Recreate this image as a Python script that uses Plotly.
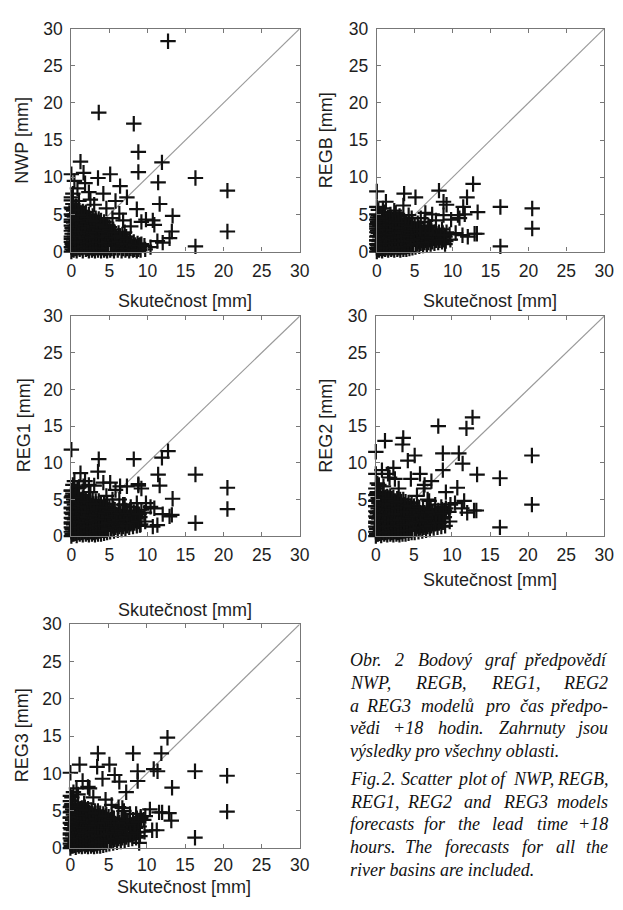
import plotly.graph_objects as go

# ---------------- data (mm) ----------------
# isolated / readable points: observed value and the five model forecasts
skutecnost_out = [20.5, 20.5, 16.3, 16.3, 12.7, 11.9, 8.2, 3.6, 8.8, 13.3, 13.2, 11.4, 10.7, 5.1, 0.0, 1.2,
                  3.5, 8.8, 6.4, 4.2, 11.6, 12.9, 7.3, 0.0, 10.9, 9.2, 9.0, 11.3, 2.3, 0.8, 6.3, 9.8,
                  12.0, 10.4, 1.8, 5.8, 0.4, 1.6, 2.5, 3.0, 4.6, 5.4, 7.8, 7.0, 0.2, 1.0, 8.6, 6.8]
nwp_out = [8.2, 2.7, 9.9, 0.7, 28.3, 12.0, 17.2, 18.7, 13.4, 4.8, 2.7, 9.3, 4.2, 10.4, 10.4, 12.1,
           9.9, 10.7, 8.8, 7.8, 6.4, 1.8, 7.3, 6.9, 3.6, 4.0, 0.9, 1.4, 8.0, 8.5, 5.1, 4.3,
           1.2, 0.6, 9.2, 6.8, 9.5, 10.6, 7.0, 6.3, 5.8, 4.5, 3.4, 2.6, 7.8, 6.8, 5.7, 4.2]
regb_out = [5.8, 3.1, 6.0, 0.7, 9.1, 7.3, 8.2, 7.8, 6.7, 5.3, 2.4, 6.0, 4.9, 7.3, 8.1, 6.7,
            6.2, 4.9, 5.2, 4.9, 5.0, 2.4, 5.0, 6.0, 4.5, 6.3, 1.0, 2.2, 5.5, 5.8, 4.0, 4.3,
            2.0, 2.5, 5.0, 4.5, 3.5, 4.0, 5.2, 4.8, 4.5, 3.8, 4.2, 3.3, 5.6, 5.3, 3.0, 3.5]
reg1_out = [6.6, 3.7, 8.4, 1.8, 11.6, 10.7, 10.5, 10.5, 7.1, 5.1, 2.9, 8.4, 1.3, 7.3, 11.8, 8.6,
            8.8, 6.9, 6.8, 7.3, 6.9, 2.7, 6.8, 6.2, 3.8, 6.5, 1.5, 1.5, 7.0, 6.5, 5.0, 4.5,
            3.0, 4.0, 7.5, 6.3, 7.5, 6.8, 6.0, 6.9, 5.5, 5.0, 4.0, 4.3, 7.0, 6.7, 4.5, 4.3]
reg2_out = [11.0, 4.3, 7.9, 1.2, 16.2, 14.7, 15.0, 13.4, 11.3, 8.4, 3.5, 9.9, 6.6, 11.0, 11.5, 13.0,
            12.5, 9.0, 7.0, 10.3, 4.8, 3.5, 7.5, 8.5, 11.3, 6.0, 3.5, 3.8, 9.3, 9.0, 6.5, 4.3,
            3.2, 4.5, 8.0, 8.5, 7.0, 8.5, 7.8, 6.5, 7.8, 5.5, 4.3, 4.8, 7.2, 6.8, 4.0, 5.0]
reg3_out = [9.7, 4.9, 10.3, 1.4, 14.8, 12.7, 12.7, 12.7, 10.3, 8.1, 3.7, 10.3, 2.4, 11.2, 10.1, 11.2,
            10.9, 9.0, 8.9, 9.3, 4.8, 4.7, 7.5, 7.0, 10.6, 4.0, 0.7, 2.4, 8.2, 8.0, 5.5, 4.3,
            4.8, 5.2, 6.0, 9.8, 7.5, 9.0, 8.0, 6.8, 6.5, 5.8, 4.6, 5.0, 6.8, 7.2, 4.6, 5.4]

# dense cluster of small amounts, part A (read column by column)
skutecnost_cl = [
    0, 0, 0, 0, 0, 0, 0, 0, 0, 0,
    0.3, 0.2, 0.3, 0.4, 0.2, 0.3, 0.4, 0.3, 0.2,
    0.7, 0.6, 0.7, 0.8, 0.6, 0.7, 0.8, 0.7, 0.6,
    1.1, 1.0, 1.1, 1.2, 1.0, 1.1, 1.2, 1.1, 1.0,
    1.5, 1.4, 1.5, 1.6, 1.4, 1.5, 1.6, 1.5,
    1.9, 1.8, 1.9, 2.0, 1.8, 1.9, 2.0, 1.9,
    2.3, 2.2, 2.3, 2.4, 2.2, 2.3, 2.4, 2.3,
    2.7, 2.6, 2.7, 2.8, 2.6, 2.7, 2.8,
    3.1, 3.0, 3.1, 3.2, 3.0, 3.1, 3.2,
    3.5, 3.4, 3.5, 3.6, 3.4, 3.5, 3.6,
    3.9, 3.8, 3.9, 4.0, 3.8, 3.9,
    4.3, 4.2, 4.3, 4.4, 4.2, 4.3,
    4.7, 4.6, 4.7, 4.8, 4.6, 4.7,
    5.1, 5.0, 5.1, 5.2, 5.0,
    5.6, 5.5, 5.6, 5.7, 5.5,
    6.1, 6.0, 6.1, 6.2,
    6.6, 6.5, 6.6, 6.7,
    7.1, 7.0, 7.1, 7.2,
    7.6, 7.5, 7.7,
    8.1, 8.0, 8.2,
    8.6, 8.5, 8.7,
    9.1, 9.0, 9.2,
    9.7, 9.6,
]
nwp_cl = [
    0, 0.6, 1.3, 2.0, 2.8, 3.5, 4.3, 5.0, 5.9, 7.3,
    0.2, 0.9, 1.6, 2.4, 3.1, 3.9, 4.7, 5.5, 6.4,
    0.1, 0.8, 1.5, 2.2, 2.9, 3.6, 4.4, 5.2, 6.1,
    0.3, 1.0, 1.7, 2.4, 3.1, 3.8, 4.5, 5.2, 6.0,
    0.1, 0.8, 1.5, 2.2, 2.9, 3.7, 4.5, 5.4,
    0.3, 1.0, 1.7, 2.4, 3.1, 3.8, 4.6, 5.3,
    0.1, 0.8, 1.4, 2.1, 2.8, 3.5, 4.2, 5.0,
    0.2, 0.9, 1.6, 2.3, 3.1, 3.9, 4.8,
    0.1, 0.8, 1.5, 2.2, 2.9, 3.7, 4.5,
    0.2, 0.9, 1.6, 2.3, 3.0, 3.7, 4.4,
    0.1, 0.9, 1.7, 2.5, 3.3, 4.2,
    0.2, 0.9, 1.6, 2.4, 3.2, 4.0,
    0.1, 0.8, 1.5, 2.2, 2.9, 3.6,
    0.2, 0.9, 1.7, 2.5, 3.3,
    0.1, 0.8, 1.5, 2.2, 3.0,
    0.2, 0.9, 1.7, 2.5,
    0.1, 0.8, 1.5, 2.3,
    0.2, 0.8, 1.4, 2.0,
    0.1, 0.8, 1.5,
    0.2, 0.7, 1.3,
    0.1, 0.6, 1.1,
    0.2, 0.6, 1.0,
    0.3, 0.8,
]
regb_cl = [
    0, 0.5, 1.0, 1.5, 2.0, 2.6, 3.1, 3.7, 4.3, 5.0,
    0.2, 0.8, 1.4, 2.0, 2.5, 3.1, 3.7, 4.3, 4.9,
    0.1, 0.7, 1.3, 1.8, 2.4, 3.0, 3.6, 4.2, 4.8,
    0.3, 0.8, 1.4, 1.9, 2.5, 3.0, 3.6, 4.1, 4.7,
    0.2, 0.8, 1.4, 2.0, 2.6, 3.2, 3.8, 4.5,
    0.3, 0.9, 1.5, 2.1, 2.7, 3.3, 3.9, 4.5,
    0.2, 0.8, 1.4, 2.0, 2.6, 3.2, 3.8, 4.4,
    0.3, 0.9, 1.6, 2.3, 3.0, 3.7, 4.4,
    0.2, 0.9, 1.5, 2.2, 2.9, 3.6, 4.3,
    0.3, 0.9, 1.6, 2.2, 2.9, 3.5, 4.2,
    0.3, 1.0, 1.8, 2.5, 3.2, 4.0,
    0.4, 1.1, 1.8, 2.5, 3.2, 3.9,
    0.5, 1.1, 1.7, 2.4, 3.0, 3.7,
    0.6, 1.3, 2.0, 2.7, 3.4,
    0.7, 1.3, 1.9, 2.5, 3.2,
    0.8, 1.5, 2.2, 2.9,
    0.9, 1.5, 2.1, 2.8,
    1.0, 1.6, 2.2, 2.8,
    1.1, 1.8, 2.6,
    1.2, 1.9, 2.6,
    1.3, 1.9, 2.5,
    1.4, 2.0, 2.6,
    1.6, 2.3,
]
reg1_cl = [
    0, 0.6, 1.2, 1.9, 2.5, 3.2, 3.9, 4.6, 5.3, 6.2,
    0.3, 0.9, 1.6, 2.3, 3.0, 3.6, 4.3, 5.0, 5.8,
    0.1, 0.8, 1.4, 2.1, 2.8, 3.5, 4.2, 4.9, 5.6,
    0.3, 0.9, 1.6, 2.2, 2.9, 3.5, 4.2, 4.9, 5.6,
    0.2, 0.9, 1.6, 2.3, 3.0, 3.7, 4.4, 5.2,
    0.3, 1.0, 1.7, 2.4, 3.0, 3.7, 4.4, 5.1,
    0.2, 0.9, 1.5, 2.2, 2.9, 3.6, 4.3, 5.0,
    0.3, 1.0, 1.7, 2.5, 3.3, 4.1, 4.9,
    0.2, 0.9, 1.6, 2.4, 3.2, 4.0, 4.8,
    0.3, 1.0, 1.7, 2.5, 3.3, 4.0, 4.8,
    0.3, 1.1, 1.9, 2.7, 3.6, 4.5,
    0.4, 1.2, 2.0, 2.8, 3.6, 4.4,
    0.5, 1.2, 1.9, 2.7, 3.5, 4.3,
    0.6, 1.4, 2.2, 3.0, 3.9,
    0.7, 1.4, 2.2, 3.0, 3.8,
    0.8, 1.7, 2.6, 3.5,
    0.9, 1.7, 2.5, 3.4,
    1.0, 1.8, 2.6, 3.5,
    1.2, 2.2, 3.3,
    1.3, 2.3, 3.3,
    1.4, 2.4, 3.4,
    1.6, 2.6, 3.6,
    2.0, 3.2,
]
reg2_cl = [
    0, 0.6, 1.3, 2.0, 2.7, 3.4, 4.1, 4.8, 5.6, 6.5,
    0.3, 1.0, 1.7, 2.4, 3.1, 3.8, 4.5, 5.2, 6.0,
    0.1, 0.8, 1.5, 2.2, 2.9, 3.6, 4.3, 5.0, 5.8,
    0.3, 1.0, 1.7, 2.4, 3.1, 3.8, 4.5, 5.2, 5.9,
    0.2, 0.9, 1.6, 2.3, 3.0, 3.8, 4.6, 5.4,
    0.3, 1.0, 1.7, 2.4, 3.1, 3.9, 4.7, 5.5,
    0.2, 0.9, 1.6, 2.3, 3.0, 3.7, 4.5, 5.3,
    0.3, 1.0, 1.8, 2.6, 3.4, 4.2, 5.1,
    0.2, 0.9, 1.7, 2.5, 3.3, 4.1, 5.0,
    0.3, 1.0, 1.8, 2.6, 3.4, 4.2, 5.0,
    0.3, 1.1, 1.9, 2.8, 3.7, 4.7,
    0.4, 1.2, 2.0, 2.8, 3.7, 4.6,
    0.5, 1.2, 2.0, 2.8, 3.6, 4.5,
    0.5, 1.3, 2.2, 3.1, 4.1,
    0.6, 1.4, 2.2, 3.1, 4.0,
    0.7, 1.6, 2.6, 3.6,
    0.8, 1.7, 2.6, 3.6,
    0.9, 1.8, 2.7, 3.7,
    1.1, 2.2, 3.4,
    1.2, 2.3, 3.5,
    1.3, 2.4, 3.6,
    1.4, 2.6, 3.8,
    2.0, 3.3,
]
reg3_cl = [
    0, 0.6, 1.3, 2.0, 2.7, 3.4, 4.1, 4.8, 5.5, 6.3,
    0.3, 1.0, 1.7, 2.4, 3.1, 3.8, 4.5, 5.2, 5.9,
    0.1, 0.8, 1.5, 2.2, 2.9, 3.6, 4.3, 5.0, 5.7,
    0.3, 1.0, 1.7, 2.4, 3.1, 3.8, 4.5, 5.2, 5.8,
    0.2, 0.9, 1.6, 2.3, 3.0, 3.8, 4.6, 5.4,
    0.3, 1.0, 1.7, 2.4, 3.1, 3.9, 4.7, 5.5,
    0.2, 0.9, 1.6, 2.3, 3.0, 3.7, 4.5, 5.3,
    0.3, 1.0, 1.8, 2.6, 3.4, 4.2, 5.1,
    0.2, 0.9, 1.7, 2.5, 3.3, 4.1, 5.0,
    0.3, 1.0, 1.8, 2.6, 3.4, 4.2, 5.0,
    0.3, 1.1, 1.9, 2.8, 3.7, 4.7,
    0.4, 1.2, 2.0, 2.8, 3.7, 4.6,
    0.5, 1.2, 2.0, 2.8, 3.6, 4.5,
    0.6, 1.4, 2.3, 3.2, 4.2,
    0.7, 1.5, 2.3, 3.2, 4.1,
    0.8, 1.7, 2.7, 3.8,
    0.9, 1.8, 2.8, 3.8,
    1.0, 1.9, 2.9, 3.9,
    1.2, 2.4, 3.7,
    1.3, 2.5, 3.8,
    1.4, 2.7, 4.0,
    1.6, 2.9, 4.2,
    2.2, 3.8,
]

# dense cluster, part B (columns in between)
skutecnost_cl2 = [
    0.1, 0.1, 0.0, 0.1, 0.1, 0.0, 0.1, 0.1,
    0.5, 0.5, 0.4, 0.5, 0.5, 0.6, 0.5, 0.5,
    0.9, 0.9, 0.9, 1.0, 0.9, 0.8, 0.9, 0.9,
    1.3, 1.3, 1.2, 1.3, 1.4, 1.3, 1.3,
    1.7, 1.7, 1.6, 1.7, 1.8, 1.7, 1.7,
    2.1, 2.1, 2.0, 2.1, 2.2, 2.1, 2.1,
    2.5, 2.5, 2.4, 2.5, 2.6, 2.5,
    2.9, 2.9, 2.8, 2.9, 3.0, 2.9,
    3.3, 3.3, 3.2, 3.3, 3.4, 3.3,
    3.7, 3.7, 3.6, 3.7, 3.8,
    4.1, 4.1, 4.0, 4.1, 4.2,
    4.5, 4.5, 4.4, 4.5, 4.6,
    4.9, 4.9, 4.8, 5.0,
    5.3, 5.3, 5.4, 5.3,
    5.8, 5.8, 5.9, 5.7,
    6.3, 6.3, 6.4,
    6.8, 6.8, 6.9,
    7.3, 7.3, 7.4,
    7.8, 7.9,
    8.3, 8.4,
    8.8, 8.9,
]
nwp_cl2 = [
    0.3, 1.0, 1.7, 2.4, 3.2, 4.0, 4.8, 5.7,
    0.4, 1.2, 2.0, 2.7, 3.5, 4.2, 5.0, 5.8,
    0.5, 1.3, 2.0, 2.7, 3.4, 4.1, 4.9, 5.6,
    0.5, 1.3, 2.0, 2.7, 3.4, 4.2, 5.0,
    0.6, 1.3, 2.0, 2.7, 3.5, 4.2, 4.9,
    0.4, 1.1, 1.8, 2.5, 3.2, 3.9, 4.6,
    0.5, 1.2, 2.0, 2.7, 3.5, 4.3,
    0.4, 1.1, 1.9, 2.6, 3.3, 4.1,
    0.5, 1.2, 1.9, 2.6, 3.4, 4.1,
    0.5, 1.3, 2.1, 2.9, 3.7,
    0.5, 1.2, 2.0, 2.8, 3.6,
    0.4, 1.1, 1.9, 2.6, 3.3,
    0.5, 1.3, 2.1, 2.9,
    0.4, 1.2, 1.9, 2.7,
    0.5, 1.2, 1.9, 2.6,
    0.5, 1.3, 2.1,
    0.4, 1.1, 1.8,
    0.4, 1.0, 1.6,
    0.4, 1.1,
    0.3, 0.9,
    0.3, 0.8,
]
regb_cl2 = [
    0.3, 0.9, 1.5, 2.1, 2.8, 3.4, 4.0, 4.6,
    0.4, 1.0, 1.6, 2.2, 2.8, 3.4, 4.0, 4.6,
    0.4, 1.0, 1.6, 2.2, 2.8, 3.3, 3.9, 4.5,
    0.5, 1.1, 1.7, 2.3, 2.9, 3.5, 4.2,
    0.5, 1.1, 1.8, 2.4, 3.0, 3.6, 4.2,
    0.5, 1.1, 1.7, 2.3, 2.9, 3.5, 4.1,
    0.6, 1.2, 1.9, 2.6, 3.3, 4.0,
    0.5, 1.2, 1.8, 2.5, 3.2, 3.9,
    0.6, 1.2, 1.9, 2.5, 3.2, 3.9,
    0.6, 1.4, 2.1, 2.8, 3.6,
    0.7, 1.4, 2.1, 2.8, 3.5,
    0.8, 1.4, 2.0, 2.7, 3.4,
    0.9, 1.6, 2.3, 3.0,
    1.0, 1.6, 2.3, 3.0,
    1.1, 1.7, 2.4, 3.0,
    1.2, 1.9, 2.5,
    1.2, 1.8, 2.5,
    1.3, 1.9, 2.5,
    1.5, 2.2,
    1.5, 2.2,
    1.6, 2.2,
]
reg1_cl2 = [
    0.3, 1.0, 1.7, 2.4, 3.1, 3.8, 4.6, 5.5,
    0.4, 1.1, 1.8, 2.5, 3.2, 3.9, 4.7, 5.4,
    0.5, 1.2, 1.9, 2.6, 3.3, 4.0, 4.7, 5.3,
    0.5, 1.2, 2.0, 2.7, 3.4, 4.2, 5.0,
    0.6, 1.3, 2.0, 2.7, 3.4, 4.1, 4.8,
    0.5, 1.2, 1.9, 2.6, 3.3, 4.0, 4.7,
    0.6, 1.4, 2.1, 2.9, 3.7, 4.5,
    0.5, 1.3, 2.0, 2.8, 3.6, 4.4,
    0.6, 1.4, 2.1, 2.9, 3.7, 4.4,
    0.7, 1.5, 2.3, 3.1, 4.0,
    0.8, 1.6, 2.4, 3.2, 4.0,
    0.8, 1.6, 2.3, 3.1, 3.9,
    1.0, 1.8, 2.6, 3.5,
    1.0, 1.8, 2.6, 3.4,
    1.2, 2.0, 2.8, 3.6,
    1.3, 2.2, 3.1,
    1.3, 2.1, 3.0,
    1.4, 2.3, 3.1,
    1.7, 2.8,
    1.8, 2.8,
    2.0, 3.0,
]
reg2_cl2 = [
    0.3, 1.0, 1.8, 2.5, 3.3, 4.1, 4.9, 5.8,
    0.4, 1.2, 1.9, 2.7, 3.4, 4.2, 5.0, 5.8,
    0.5, 1.3, 2.0, 2.8, 3.5, 4.2, 5.0, 5.7,
    0.5, 1.3, 2.1, 2.9, 3.7, 4.5, 5.3,
    0.6, 1.4, 2.1, 2.8, 3.6, 4.4, 5.2,
    0.5, 1.3, 2.0, 2.8, 3.6, 4.4, 5.1,
    0.6, 1.4, 2.2, 3.0, 3.9, 4.8,
    0.5, 1.3, 2.1, 3.0, 3.8, 4.6,
    0.6, 1.4, 2.2, 3.0, 3.9, 4.7,
    0.7, 1.6, 2.5, 3.4, 4.3,
    0.8, 1.6, 2.5, 3.3, 4.2,
    0.8, 1.6, 2.4, 3.3, 4.1,
    0.9, 1.8, 2.7, 3.6,
    1.0, 1.8, 2.7, 3.6,
    1.1, 2.0, 2.9, 3.9,
    1.2, 2.2, 3.2,
    1.3, 2.2, 3.2,
    1.4, 2.4, 3.3,
    1.7, 2.9,
    1.8, 3.0,
    1.9, 3.1,
]
reg3_cl2 = [
    0.3, 1.0, 1.8, 2.5, 3.3, 4.1, 4.9, 5.7,
    0.4, 1.2, 1.9, 2.7, 3.4, 4.2, 5.0, 5.7,
    0.5, 1.3, 2.0, 2.8, 3.5, 4.2, 4.9, 5.6,
    0.5, 1.3, 2.1, 2.9, 3.7, 4.5, 5.3,
    0.6, 1.4, 2.1, 2.8, 3.6, 4.4, 5.2,
    0.5, 1.3, 2.0, 2.8, 3.6, 4.4, 5.1,
    0.6, 1.4, 2.2, 3.0, 3.9, 4.8,
    0.5, 1.3, 2.1, 3.0, 3.8, 4.6,
    0.6, 1.4, 2.2, 3.0, 3.9, 4.7,
    0.7, 1.6, 2.5, 3.4, 4.3,
    0.8, 1.6, 2.5, 3.3, 4.2,
    0.8, 1.7, 2.5, 3.4, 4.3,
    1.0, 1.9, 2.8, 3.7,
    1.0, 1.9, 2.8, 3.8,
    1.2, 2.1, 3.0, 4.0,
    1.3, 2.4, 3.4,
    1.4, 2.4, 3.4,
    1.5, 2.6, 3.7,
    1.8, 3.1,
    1.9, 3.2,
    2.1, 3.5,
]

model_names = ["NWP", "REGB", "REG1", "REG2", "REG3"]
x_title = "Skutečnost [mm]"
tick_vals = [0, 5, 10, 15, 20, 25, 30]
diag = [0, 30]

caption_lines = [
    "Obr. 2  Bodový graf předpovědí",
    "NWP, REGB, REG1, REG2",
    "a REG3 modelů pro čas předpo-",
    "vědi +18 hodin. Zahrnuty jsou",
    "výsledky pro všechny oblasti.",
    "Fig. 2. Scatter plot of NWP, REGB,",
    "REG1, REG2 and REG3 models",
    "forecasts for the lead time +18",
    "hours. The forecasts for all the",
    "river basins are included.",
]
justified = [True, True, True, True, False, True, True, True, True, False]

skutecnost = skutecnost_out + skutecnost_cl + skutecnost_cl2
forecasts = [nwp_out + nwp_cl + nwp_cl2, regb_out + regb_cl + regb_cl2,
             reg1_out + reg1_cl + reg1_cl2, reg2_out + reg2_cl + reg2_cl2,
             reg3_out + reg3_cl + reg3_cl2]

# ---------------- layout (pixels) ----------------
W, H = 623, 910
frames = [(68, 302, 19, 247), (381, 614, 19, 247), (68, 302, 313, 538),
          (380, 614, 313, 538), (67, 302, 628, 857)]
xtitle_pos = [(184, 298), (497, 298), (184, 613), (497, 583), (183, 897)]
ytitle_pos = [(17, 133), (329, 133), (19, 425), (329, 425), (17, 742)]
xtick_standoff = [3, 3, 3, 3, 1]


def px(x):
    return x / W


def py(y):
    return 1 - y / H


fig = go.Figure()
layout = dict(width=W, height=H, margin=dict(l=0, r=0, t=0, b=0),
              paper_bgcolor="white", plot_bgcolor="white", showlegend=False)
annotations = []
sans = "Liberation Sans, Arial, sans-serif"
axis_font = dict(family=sans, size=17.5, color="#1e1e1e")
title_font = dict(family=sans, size=18, color="#1e1e1e")

for i, (name, yv) in enumerate(zip(model_names, forecasts)):
    l, r, t, b = frames[i]
    xa = "xaxis" if i == 0 else f"xaxis{i+1}"
    ya = "yaxis" if i == 0 else f"yaxis{i+1}"
    xr = "x" if i == 0 else f"x{i+1}"
    yr = "y" if i == 0 else f"y{i+1}"
    common = dict(range=[0, 30], tickvals=tick_vals, ticks="inside", ticklen=4,
                  tickcolor="#777", tickwidth=1, showline=True, linecolor="#777",
                  linewidth=1.2, mirror="ticks", showgrid=False, zeroline=False,
                  tickfont=axis_font, fixedrange=True)
    layout[xa] = dict(domain=[px(l), px(r)], anchor=yr, ticklabelstandoff=xtick_standoff[i], **common)
    layout[ya] = dict(domain=[py(b), py(t)], anchor=xr, ticklabelstandoff=4, **common)

    fig.add_trace(go.Scatter(x=diag, y=diag, mode="lines",
                             line=dict(color="#9a9a9a", width=1.2),
                             xaxis=xr, yaxis=yr, hoverinfo="skip"))
    fig.add_trace(go.Scatter(x=skutecnost, y=yv, mode="markers",
                             marker=dict(symbol="cross-thin", size=11,
                                         line=dict(color="#111", width=2.2)),
                             cliponaxis=False, xaxis=xr, yaxis=yr))

    xt = xtitle_pos[i]
    annotations.append(dict(text=x_title, x=px(xt[0]), y=py(xt[1]), xref="paper", yref="paper",
                            showarrow=False, xanchor="center", yanchor="middle", font=title_font,
                            borderpad=0))
    yt = ytitle_pos[i]
    annotations.append(dict(text=f"{name} [mm]", x=px(yt[0]), y=py(yt[1]), xref="paper", yref="paper",
                            showarrow=False, xanchor="center", yanchor="middle", textangle=-90,
                            font=title_font, borderpad=0))

# ---------------- caption (justified by word placement) ----------------
# approximate Times-Italic advance widths (1/1000 em)
TW = {' ': 250, ',': 250, '.': 250, '-': 333, '+': 675,
      'A': 611, 'B': 611, 'C': 667, 'D': 722, 'E': 611, 'F': 611, 'G': 722, 'H': 722, 'I': 333,
      'J': 444, 'K': 667, 'L': 556, 'M': 833, 'N': 667, 'O': 722, 'P': 611, 'R': 611, 'S': 500,
      'T': 556, 'W': 833, 'Z': 556,
      'a': 500, 'b': 500, 'c': 444, 'd': 500, 'e': 444, 'f': 278, 'g': 500, 'h': 500, 'i': 278,
      'j': 278, 'k': 444, 'l': 278, 'm': 722, 'n': 500, 'o': 500, 'p': 500, 'r': 389, 's': 389,
      't': 278, 'u': 500, 'v': 444, 'w': 667, 'y': 444, 'z': 389,
      'ý': 444, 'ě': 444, 'í': 278, 'ř': 389, 'č': 444, 'š': 389, 'ů': 500}
cap_size = 18
cap_left, cap_right = 351, 620
cap_y0, cap_dy = 665, 23.1
cap_gap_extra = 6  # paragraph spacing


def word_w(w):
    return sum(TW.get(ch, 500) for ch in w) / 1000 * cap_size


cap_font = dict(family="Liberation Serif, Times New Roman, serif", size=cap_size, color="#111")
for k, (line, just) in enumerate(zip(caption_lines, justified)):
    yline = cap_y0 + k * cap_dy + (cap_gap_extra if k >= 5 else 0)
    if not just:
        annotations.append(dict(text=f"<i>{line}</i>", x=px(cap_left), y=py(yline), xref="paper",
                                yref="paper", showarrow=False, xanchor="left", yanchor="middle",
                                font=cap_font))
        continue
    words = line.split()
    widths = [word_w(w) for w in words]
    gap = (cap_right - cap_left - sum(widths)) / (len(words) - 1)
    xcur = cap_left
    for j, (w, ww) in enumerate(zip(words, widths)):
        if j == 0:
            xpos, anc = cap_left, "left"
        elif j == len(words) - 1:
            xpos, anc = cap_right, "right"
        else:
            xpos, anc = xcur + ww / 2, "center"
        annotations.append(dict(text=f"<i>{w}</i>", x=px(xpos), y=py(yline), xref="paper",
                                yref="paper", showarrow=False, xanchor=anc, yanchor="middle",
                                font=cap_font))
        xcur += ww + gap

layout["annotations"] = annotations
fig.update_layout(**layout)
fig.write_html("out.html")
